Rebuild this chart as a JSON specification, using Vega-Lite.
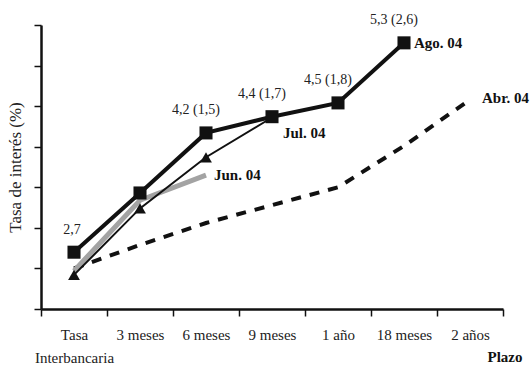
{
  "$schema": "https://vega.github.io/schema/vega-lite/v6.json",
  "width": 462,
  "height": 284,
  "autosize": "none",
  "padding": {"left": 41, "top": 25, "right": 27, "bottom": 61},
  "background": "white",
  "config": {
    "view": {"stroke": null},
    "font": "'Liberation Serif', 'DejaVu Serif', serif"
  },
  "data": {
    "values": [
      {"serie": "Ago. 04", "plazo": "Tasa Interbancaria", "tasa": 2.7, "etiqueta": "2,7"},
      {"serie": "Ago. 04", "plazo": "3 meses", "tasa": 3.43, "etiqueta": ""},
      {"serie": "Ago. 04", "plazo": "6 meses", "tasa": 4.17, "etiqueta": "4,2 (1,5)"},
      {"serie": "Ago. 04", "plazo": "9 meses", "tasa": 4.37, "etiqueta": "4,4 (1,7)"},
      {"serie": "Ago. 04", "plazo": "1 año", "tasa": 4.54, "etiqueta": "4,5 (1,8)"},
      {"serie": "Ago. 04", "plazo": "18 meses", "tasa": 5.28, "etiqueta": "5,3 (2,6)"},
      {"serie": "Jul. 04", "plazo": "Tasa Interbancaria", "tasa": 2.42, "etiqueta": ""},
      {"serie": "Jul. 04", "plazo": "3 meses", "tasa": 3.24, "etiqueta": ""},
      {"serie": "Jul. 04", "plazo": "6 meses", "tasa": 3.87, "etiqueta": ""},
      {"serie": "Jul. 04", "plazo": "9 meses", "tasa": 4.36, "etiqueta": ""},
      {"serie": "Jun. 04", "plazo": "Tasa Interbancaria", "tasa": 2.47, "etiqueta": ""},
      {"serie": "Jun. 04", "plazo": "3 meses", "tasa": 3.34, "etiqueta": ""},
      {"serie": "Jun. 04", "plazo": "6 meses", "tasa": 3.65, "etiqueta": ""},
      {"serie": "Abr. 04", "plazo": "Tasa Interbancaria", "tasa": 2.5, "etiqueta": ""},
      {"serie": "Abr. 04", "plazo": "3 meses", "tasa": 2.79, "etiqueta": ""},
      {"serie": "Abr. 04", "plazo": "6 meses", "tasa": 3.06, "etiqueta": ""},
      {"serie": "Abr. 04", "plazo": "9 meses", "tasa": 3.28, "etiqueta": ""},
      {"serie": "Abr. 04", "plazo": "1 año", "tasa": 3.5, "etiqueta": ""},
      {"serie": "Abr. 04", "plazo": "18 meses", "tasa": 4.01, "etiqueta": ""},
      {"serie": "Abr. 04", "plazo": "2 años", "tasa": 4.58, "etiqueta": ""}
    ]
  },
  "encoding": {
    "x": {
      "field": "plazo",
      "type": "nominal",
      "sort": ["Tasa Interbancaria", "3 meses", "6 meses", "9 meses", "1 año", "18 meses", "2 años"],
      "scale": {"type": "band", "paddingInner": 0, "paddingOuter": 0, "domain": ["Tasa Interbancaria", "3 meses", "6 meses", "9 meses", "1 año", "18 meses", "2 años"]},
      "axis": {
        "title": "Plazo",
        "titleFont": "'Liberation Serif', 'DejaVu Serif', serif",
        "titleFontWeight": "bold",
        "titleFontSize": 15,
        "titleColor": "#111",
        "titleX": 481,
        "titleY": 47,
        "titleAlign": "right",
        "titleBaseline": "middle",
        "labelAngle": 0,
        "labelFont": "'Liberation Serif', 'DejaVu Serif', serif",
        "labelFontSize": 15,
        "labelColor": "#222",
        "labelPadding": 11,
        "labelBaseline": "top",
        "labelLineHeight": 23,
        "labelExpr": "datum.value == 'Tasa Interbancaria' ? ['Tasa', 'Interbancaria'] : datum.value",
        "tickBand": "extent",
        "tickSize": 7,
        "tickWidth": 1.5,
        "tickColor": "#111",
        "domainColor": "#111",
        "domainWidth": 2.5,
        "grid": false
      }
    },
    "y": {
      "field": "tasa",
      "type": "quantitative",
      "scale": {"domain": [2, 5.5], "nice": false, "zero": false},
      "axis": {
        "title": "Tasa de interés (%)",
        "titleFont": "'Liberation Serif', 'DejaVu Serif', serif",
        "titleFontWeight": "normal",
        "titleFontSize": 17,
        "titleColor": "#222",
        "titleX": -26,
        "titleY": 142,
        "titleAngle": -90,
        "titleAlign": "center",
        "titleBaseline": "middle",
        "labels": false,
        "values": [2, 2.5, 3, 3.5, 4, 4.5, 5, 5.5],
        "tickSize": 7,
        "tickWidth": 1.5,
        "tickColor": "#111",
        "domainColor": "#111",
        "domainWidth": 2.5,
        "grid": false
      }
    }
  },
  "layer": [
    {
      "transform": [{"filter": "datum.serie == 'Abr. 04'"}],
      "mark": {"type": "line", "color": "#111", "strokeWidth": 4, "strokeDash": [10, 9]}
    },
    {
      "transform": [{"filter": "datum.serie == 'Jun. 04'"}],
      "mark": {"type": "line", "color": "#a3a3a3", "strokeWidth": 5}
    },
    {
      "transform": [{"filter": "datum.serie == 'Jul. 04'"}],
      "mark": {"type": "line", "color": "#111", "strokeWidth": 2}
    },
    {
      "transform": [{"filter": "datum.serie == 'Jul. 04'"}],
      "mark": {"type": "point", "shape": "triangle-up", "filled": true, "color": "#111", "size": 140, "opacity": 1}
    },
    {
      "transform": [{"filter": "datum.serie == 'Ago. 04'"}],
      "mark": {"type": "line", "color": "#111", "strokeWidth": 4}
    },
    {
      "transform": [{"filter": "datum.serie == 'Ago. 04'"}],
      "mark": {"type": "square", "filled": true, "color": "#111", "size": 170, "opacity": 1}
    },
    {
      "transform": [{"filter": "datum.serie == 'Ago. 04' && datum.plazo == 'Tasa Interbancaria'"}],
      "mark": {"type": "text", "font": "'Liberation Serif', 'DejaVu Serif', serif", "fontSize": 14, "color": "#222", "dx": -2, "dy": -22, "baseline": "middle"},
      "encoding": {"text": {"field": "etiqueta"}}
    },
    {
      "transform": [{"filter": "datum.serie == 'Ago. 04' && datum.plazo != 'Tasa Interbancaria' && datum.etiqueta != ''"}],
      "mark": {"type": "text", "font": "'Liberation Serif', 'DejaVu Serif', serif", "fontSize": 14, "color": "#222", "dx": -10, "dy": -23, "baseline": "middle"},
      "encoding": {"text": {"field": "etiqueta"}}
    },
    {
      "transform": [{"filter": "datum.serie == 'Ago. 04' && datum.plazo == '18 meses'"}],
      "mark": {"type": "text", "font": "'Liberation Serif', 'DejaVu Serif', serif", "fontWeight": "bold", "fontSize": 15, "color": "#111", "dx": 10, "dy": 0, "align": "left", "baseline": "middle"},
      "encoding": {"text": {"field": "serie"}}
    },
    {
      "transform": [{"filter": "datum.serie == 'Jul. 04' && datum.plazo == '9 meses'"}],
      "mark": {"type": "text", "font": "'Liberation Serif', 'DejaVu Serif', serif", "fontWeight": "bold", "fontSize": 15, "color": "#111", "dx": 11, "dy": 15, "align": "left", "baseline": "middle"},
      "encoding": {"text": {"field": "serie"}}
    },
    {
      "transform": [{"filter": "datum.serie == 'Jun. 04' && datum.plazo == '6 meses'"}],
      "mark": {"type": "text", "font": "'Liberation Serif', 'DejaVu Serif', serif", "fontWeight": "bold", "fontSize": 15, "color": "#111", "dx": 8, "dy": 0, "align": "left", "baseline": "middle"},
      "encoding": {"text": {"field": "serie"}}
    },
    {
      "transform": [{"filter": "datum.serie == 'Abr. 04' && datum.plazo == '2 años'"}],
      "mark": {"type": "text", "font": "'Liberation Serif', 'DejaVu Serif', serif", "fontWeight": "bold", "fontSize": 15, "color": "#111", "dx": 12, "dy": -2, "align": "left", "baseline": "middle"},
      "encoding": {"text": {"field": "serie"}}
    }
  ]
}
